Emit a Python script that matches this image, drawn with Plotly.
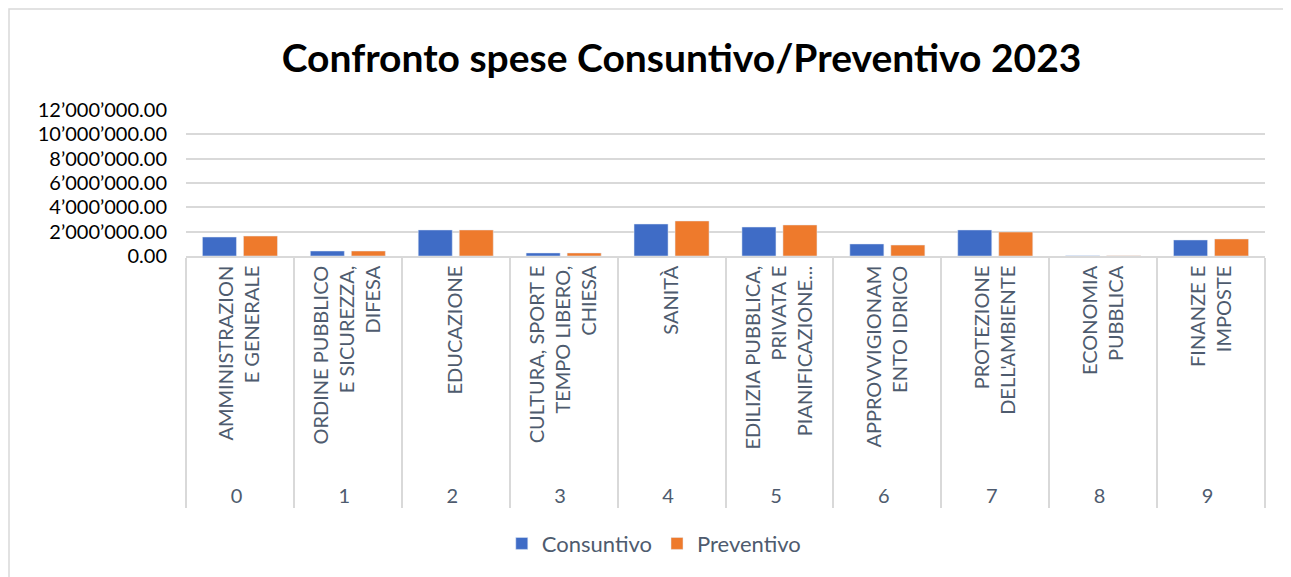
import plotly.graph_objects as go

# dati
numeri = ["0", "1", "2", "3", "4", "5", "6", "7", "8", "9"]
categorie = [
    "AMMINISTRAZION<br>E GENERALE",
    "ORDINE PUBBLICO<br>E SICUREZZA,<br>DIFESA",
    "EDUCAZIONE",
    "CULTURA, SPORT E<br>TEMPO LIBERO,<br>CHIESA",
    "SANITÀ",
    "EDILIZIA PUBBLICA,<br>PRIVATA E<br>PIANIFICAZIONE...",
    "APPROVVIGIONAM<br>ENTO IDRICO",
    "PROTEZIONE<br>DELL'AMBIENTE",
    "ECONOMIA<br>PUBBLICA",
    "FINANZE E<br>IMPOSTE",
]
consuntivo = [1560000, 410000, 2140000, 250000, 2630000, 2380000, 990000, 2140000, 20000, 1320000]
preventivo = [1640000, 410000, 2140000, 250000, 2880000, 2550000, 900000, 1970000, 15000, 1400000]

FONT = "Lato, 'Open Sans', sans-serif"
GRIGIO = "#4E5B6E"

# un po' di spazio sotto le etichette ruotate (spazi non separabili)
etichette = ["\u00a0" * 3 + c for c in categorie]
x = [numeri, etichette]

fig = go.Figure()
fig.add_bar(x=x, y=consuntivo, name="Consuntivo", marker_color="#3F6CC6")
fig.add_bar(x=x, y=preventivo, name="Preventivo", marker_color="#EE7A2C")

# la pagina ha un margine di 8px: figura un po' più piccola
fig.update_layout(
    width=1283, height=569,
    margin=dict(l=178, r=26, t=102, b=321),
    paper_bgcolor="white", plot_bgcolor="white",
    separators=".’",
    barmode="group", bargap=0.24, bargroupgap=0.17,
    title=dict(text="<b>Confronto spese Consuntivo/Preventivo 2023</b>",
               x=0.525, xanchor="center", y=0.912, yanchor="middle",
               font=dict(family=FONT, size=39, color="black")),
    legend=dict(orientation="h", x=0.434, xanchor="center", y=-1.97, yanchor="middle",
                font=dict(family=FONT, size=22, color=GRIGIO)),
    font=dict(family=FONT),
)
fig.update_yaxes(range=[0, 12000000], dtick=2000000, tickformat=",.2f",
                 gridcolor="#D9D9D9", gridwidth=1.5, zeroline=False,
                 ticklabelstandoff=18,
                 tickfont=dict(family=FONT, size=20, color="black"))
fig.update_xaxes(type="multicategory", tickangle=-90, showline=True,
                 linecolor="#D9D9D9", linewidth=1.5, showdividers=True,
                 dividercolor="#D9D9D9", dividerwidth=1.5,
                 tickfont=dict(family=FONT, size=20, color=GRIGIO))

# bordo dell'area grafico: solo lato sinistro e superiore
bx0 = (9 - 186) / 1079
bx1 = (1400 - 186) / 1079
by0 = (256 - 700) / 146
by1 = (256 - 9) / 146
fig.add_shape(type="path", xref="paper", yref="paper",
              path=f"M {bx0},{by0} L {bx0},{by1} L {bx1},{by1}",
              line=dict(color="#D9D9D9", width=1.5))

fig.write_html("out.html")
